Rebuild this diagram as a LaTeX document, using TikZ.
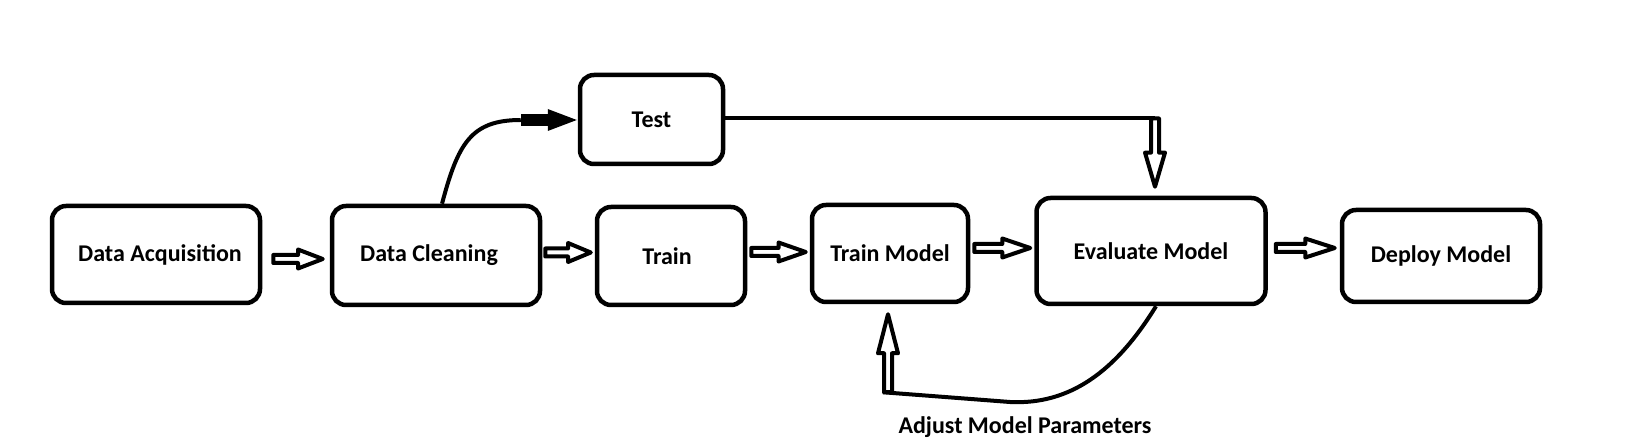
\documentclass[tikz,border=0pt]{standalone}
\usepackage{fontspec}
\setmainfont{Carlito}
\usetikzlibrary{calc}
\newcommand{\hblockarrow}[2]{%
  \draw[barrow] let \p1=#1, \p2=#2, \p3=($(\p1)!0.5!(\x2,\y1)$) in
    (\x1,\y1+4pt) -- (\x3,\y1+4pt) -- (\x3,\y1+9.5pt) -- (\x2,\y1)
    -- (\x3,\y1-9.5pt) -- (\x3,\y1-4pt) -- (\x1,\y1-4pt) -- cycle;}
\newcommand{\vblockarrow}[2]{%
  \draw[barrow] let \p1=#1, \p2=#2, \p3=($(\p1)!0.5!(\x1,\y2)$) in
    (\x1-4pt,\y1) -- (\x1-4pt,\y3) -- (\x1-10pt,\y3) -- (\x1,\y2)
    -- (\x1+10pt,\y3) -- (\x1+4pt,\y3) -- (\x1+4pt,\y1) -- cycle;}
\begin{document}
\begin{tikzpicture}[x=1pt,y=-1pt,
  box/.style={draw, line width=4.5pt, rounded corners=14pt, inner sep=0pt,
    font=\fontsize{24}{28}\selectfont\bfseries},
  conn/.style={line width=4pt},
  barrow/.style={draw, line width=4pt, fill=white, line join=round},
  lbl/.style={font=\fontsize{24}{28}\selectfont\bfseries, inner sep=0pt}]
\useasboundingbox (0,0) rectangle (1642,446);
% boxes
\node[box, minimum width=208pt, minimum height=97pt] (da) at (156,254.5) {\kern8pt Data Acquisition};
\node[box, minimum width=208pt, minimum height=99pt] (dc) at (436,255.5) {\kern-14pt Data Cleaning};
\node[box, minimum width=143pt, minimum height=89pt] (test) at (651.5,119.5) {Test};
\node[box, minimum width=148pt, minimum height=98pt] (train) at (671,256) {\kern-8pt Train};
\node[box, minimum width=156pt, minimum height=97pt] (tm) at (890,253.5) {Train Model};
\node[box, minimum width=229pt, minimum height=106pt] (em) at (1151,251) {Evaluate Model};
\node[box, minimum width=198pt, minimum height=92pt] (dm) at (1441,256) {Deploy Model};
\node[lbl] (adj) at (1025,427) {Adjust Model Parameters};
% horizontal block arrows
\hblockarrow{($(da.east)+(11,4.5)$)}{($(da.east -| dc.west)+(-7,4.5)$)}
\hblockarrow{($(dc.east)+(3,-3)$)}{($(dc.east -| train.west)+(-4,-3)$)}
\hblockarrow{($(train.east)+(4,-4)$)}{($(train.east -| tm.west)+(-4,-4)$)}
\hblockarrow{($(tm.east)+(4,-5.5)$)}{($(tm.east -| em.west)+(-4,-5.5)$)}
\hblockarrow{($(em.east)+(8,-3)$)}{($(em.east -| dm.west)+(-5,-3)$)}
% Data Cleaning -> Test
\coordinate (dcup) at ($(dc.north)+(6,0)$);
\coordinate (tbend) at ($(test.west)+(-57,0.5)$);
\draw[conn] (dcup) .. controls ($(dcup)+(16,-60)$) and ($(tbend)+(-50,0)$) .. (tbend);
\fill ($(tbend)+(0,-6)$) rectangle ($(tbend)+(29,6)$);
\fill ($(tbend)+(27,-11)$) -- ($(test.west)+(-1,0.5)$) -- ($(tbend)+(27,11)$) -- cycle;
% Test -> Evaluate Model
\coordinate (tc) at ($(test.east -| em.north)+(4,-1)$);
\draw[conn] ($(test.east)+(0,-1)$) -- (tc);
\vblockarrow{(tc)}{($(em.north)+(4,-9)$)}
% Evaluate Model -> Train Model (feedback)
\coordinate (emdown) at ($(em.south)+(5,0)$);
\coordinate (fbb) at (1010,402);
\coordinate (fbc) at ($(tm.south)+(-7,88)$);
\draw[conn] (emdown) .. controls ($(emdown)+(-40,65)$) and ($(fbb)+(60,3)$) .. (fbb) -- (fbc);
\vblockarrow{($(fbc)+(5,0)$)}{($(tm.south)+(-3,10)$)}
\end{tikzpicture}
\end{document}
